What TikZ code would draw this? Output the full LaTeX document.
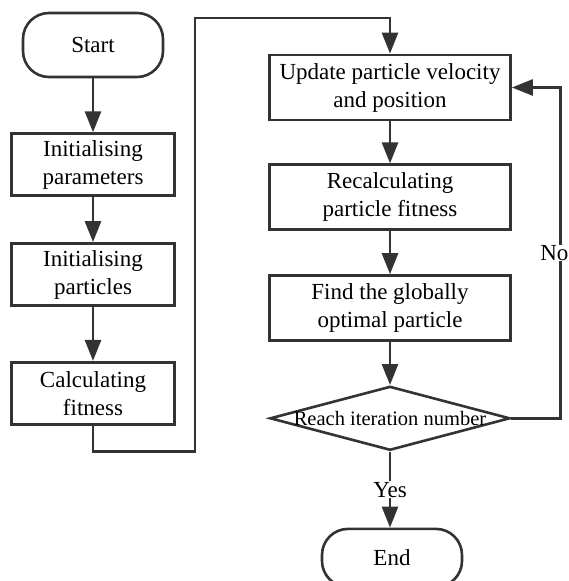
\documentclass[tikz,border=0pt]{standalone}
\usepackage{fontspec}
\setmainfont{Liberation Serif}
\usetikzlibrary{positioning, arrows.meta, shapes.geometric}

\begin{document}
\begin{tikzpicture}[
    x=1pt, y=-1pt,
    every node/.style={align=center, font=\fontsize{23}{28}\selectfont, text=black, inner sep=2pt},
    proc/.style={draw=black!80, line width=2.8pt, minimum width=163pt, minimum height=62pt},
    wideproc/.style={proc, minimum width=241pt, minimum height=65pt},
    term/.style={draw=black!80, line width=2.6pt, rounded corners=26pt, minimum width=140pt, minimum height=58pt},
    decision/.style={draw=black!80, line width=2.6pt, diamond, minimum width=240pt, minimum height=64pt, inner sep=0pt},
    flow/.style={draw=black!80, line width=2.8pt, -{Triangle[length=21pt, width=16pt]}}
]
\useasboundingbox (0,0) rectangle (569,581);

\node[term, minimum height=64pt] (start) at (93,45) {Start};
\node[proc, below=54pt of start] (params) {Initialising\\parameters};
\node[proc, below=45pt of params] (particles) {Initialising\\particles};
\node[proc, below=54pt of particles] (fitness) {Calculating\\fitness};

\node[wideproc] (update) at (390,87.5) {Update particle velocity\\and position};
\node[wideproc, below=42pt of update] (recalc) {Recalculating\\particle fitness};
\node[wideproc, below=43pt of recalc] (best) {Find the globally\\optimal particle};
\node[decision, below=43pt of best] (reach) {};
\node[font=\fontsize{20.5}{24}\selectfont] (reachtext) at (reach.center) {Reach iteration number};
\node[term, below=76pt of reach, xshift=2pt] (end) {End};

\coordinate (bend) at (195,18);

\draw[flow] (start) -- (params);
\draw[flow] (params) -- (particles);
\draw[flow] (particles) -- (fitness);
\draw[flow] (fitness.south) -- ++(0,26) -| (bend) -| (update.north);
\draw[flow] (update) -- (recalc);
\draw[flow] (recalc) -- (best);
\draw[flow] (best) -- (reach);
\draw[flow] (reach.south) -- node[fill=white, inner sep=1pt] {Yes} (reach.south |- end.north);
\draw[flow] (reach.east) -- ++(49,0) |- node[pos=0.25, fill=white, inner sep=0pt, xshift=-6pt] {No} (update.east);
\end{tikzpicture}
\end{document}
